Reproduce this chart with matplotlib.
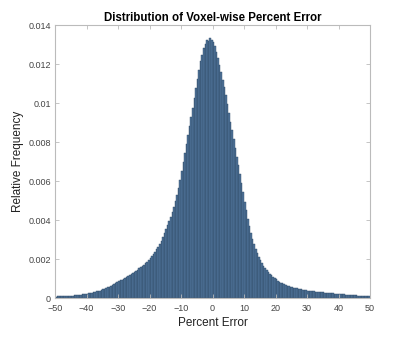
import numpy as np
import matplotlib
matplotlib.use("Agg")
import matplotlib.pyplot as plt

plt.rcParams['font.family'] = ['Liberation Sans', 'DejaVu Sans']

# bin edges: -50 to 50, width 0.5
bin_start = -50
bin_width = 0.5

# relative frequency per bin (left to right, 5 units per row)
freq = [
    0.000080, 0.000083, 0.000086, 0.000090, 0.000094, 0.000098, 0.000102, 0.000107, 0.000112, 0.000118,
    0.000122, 0.000129, 0.000137, 0.000146, 0.000156, 0.000166, 0.000177, 0.000189, 0.000201, 0.000214,
    0.000228, 0.000243, 0.000260, 0.000278, 0.000298, 0.000319, 0.000341, 0.000364, 0.000389, 0.000415,
    0.000445, 0.000478, 0.000512, 0.000548, 0.000586, 0.000626, 0.000668, 0.000712, 0.000758, 0.000806,
    0.000860, 0.000905, 0.000950, 0.000995, 0.001040, 0.001088, 0.001135, 0.001185, 0.001235, 0.001290,
    0.001345, 0.001400, 0.001460, 0.001520, 0.001585, 0.001650, 0.001720, 0.001795, 0.001870, 0.001955,
    0.002040, 0.002140, 0.002250, 0.002370, 0.002500, 0.002640, 0.002790, 0.002950, 0.003120, 0.003330,
    0.003560, 0.003750, 0.003950, 0.004180, 0.004420, 0.004680, 0.004960, 0.005280, 0.005640, 0.006060,
    0.006500, 0.006960, 0.007430, 0.007900, 0.008350, 0.008800, 0.009280, 0.009760, 0.010250, 0.010750,
    0.011250, 0.011700, 0.012150, 0.012450, 0.012800, 0.013050, 0.013250, 0.013200, 0.013350, 0.013250,
    0.013150, 0.012900, 0.012600, 0.012300, 0.011950, 0.011600, 0.011200, 0.010800, 0.010400, 0.009950,
    0.009500, 0.009050, 0.008600, 0.008150, 0.007700, 0.007250, 0.006800, 0.006350, 0.005900, 0.005450,
    0.004950, 0.004500, 0.004080, 0.003700, 0.003350, 0.003040, 0.002770, 0.002530, 0.002310, 0.002110,
    0.001940, 0.001790, 0.001660, 0.001540, 0.001430, 0.001330, 0.001240, 0.001160, 0.001085, 0.001015,
    0.000955, 0.000900, 0.000848, 0.000800, 0.000756, 0.000716, 0.000680, 0.000646, 0.000615, 0.000586,
    0.000560, 0.000536, 0.000514, 0.000494, 0.000476, 0.000459, 0.000443, 0.000428, 0.000414, 0.000401,
    0.000389, 0.000378, 0.000367, 0.000356, 0.000346, 0.000336, 0.000326, 0.000316, 0.000306, 0.000297,
    0.000288, 0.000279, 0.000270, 0.000262, 0.000254, 0.000246, 0.000238, 0.000230, 0.000222, 0.000214,
    0.000207, 0.000200, 0.000193, 0.000186, 0.000179, 0.000172, 0.000166, 0.000160, 0.000154, 0.000148,
    0.000142, 0.000137, 0.000132, 0.000127, 0.000122, 0.000117, 0.000112, 0.000108, 0.000104, 0.000100,
]

xticks = [-50, -40, -30, -20, -10, 0, 10, 20, 30, 40, 50]
yticks = [0, 0.002, 0.004, 0.006, 0.008, 0.01, 0.012, 0.014]
ytick_labels = ['0', '0.002', '0.004', '0.006', '0.008', '0.01', '0.012', '0.014']

left_edges = bin_start + bin_width * np.arange(len(freq))

fig = plt.figure(figsize=(4, 3.38), dpi=100)
ax = fig.add_axes([0.1375, 0.118, 0.7875, 0.808])

ax.bar(left_edges, freq, width=bin_width, align='edge',
       color='#4f7399', edgecolor='#2f4a66', linewidth=0.3)

ax.set_xlim(-50, 50)
ax.set_ylim(0, 0.014)
ax.set_xticks(xticks)
ax.set_yticks(yticks)
ax.set_yticklabels(ytick_labels)

ax.tick_params(direction='in', top=True, right=True, length=3, width=0.6,
               labelsize=6.5, colors='#bbbbbb', labelcolor='#444444')
ax.tick_params(axis='x', pad=4)
ax.tick_params(axis='y', pad=3)
for s in ax.spines.values():
    s.set_color('#bbbbbb')
    s.set_linewidth(0.8)

ax.set_title('Distribution of Voxel-wise Percent Error', fontsize=8.3,
             fontweight='bold', pad=3)
ax.set_xlabel('Percent Error', fontsize=8.5, color='#222222', labelpad=3)
ax.set_ylabel('Relative Frequency', fontsize=8.5, color='#222222', labelpad=3)

fig.savefig('out.png', dpi=100, facecolor='white')
